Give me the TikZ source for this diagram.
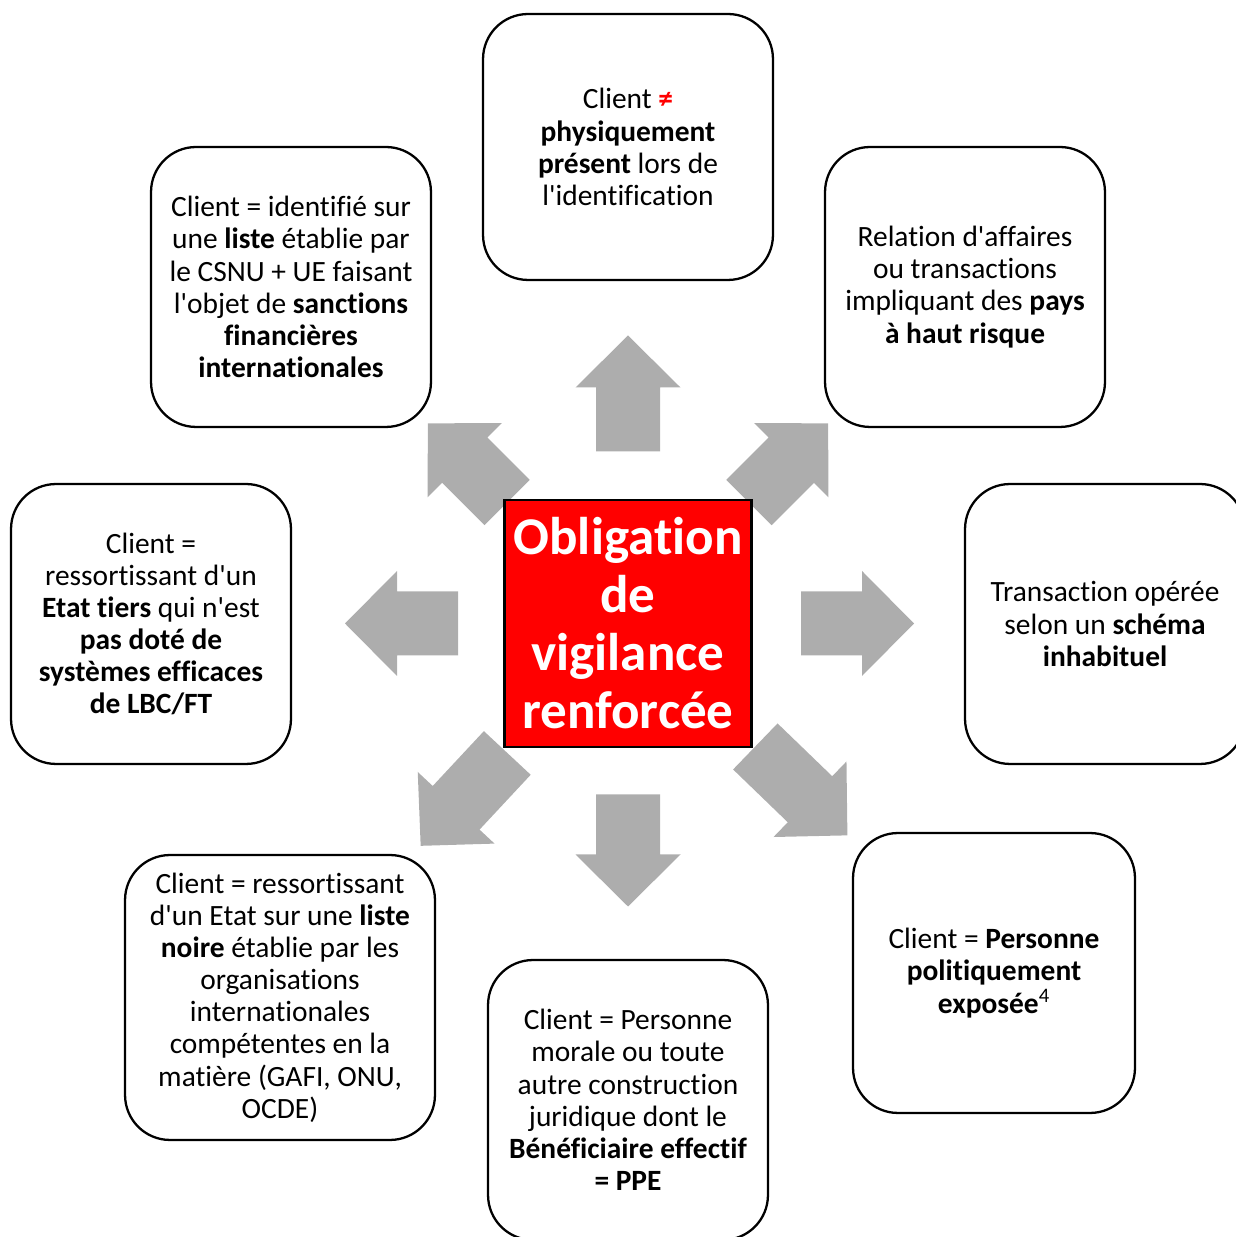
\documentclass[tikz,border=0pt]{standalone}
\usepackage{fontspec}
\setmainfont{Carlito}[Ligatures=NoCommon]
\definecolor{arrowgray}{RGB}{173,173,173}
\newcommand{\ap}{\textquotesingle}
\begin{document}
\begin{tikzpicture}[
    x=0.02cm,
    y=0.02cm,
    casebox/.style={draw=black, line width=1.3pt, rounded corners=0.9cm, fill=white,
        align=center, inner sep=0pt, minimum width=5.6cm, minimum height=5.6cm,
        font=\fontsize{16.75}{18.3}\selectfont},
    centrebox/.style={draw=black, line width=1.2pt, fill=red, text=white,
        align=center, inner sep=0pt, minimum width=4.94cm, minimum height=4.94cm,
        font=\bfseries\fontsize{30.2}{33}\selectfont},
    blockarrow/.style={fill=arrowgray}
]

% =========================================================
% CADRE
% =========================================================

\clip (0,0) rectangle (1236,1237);

% =========================================================
% PARAMETRI
% =========================================================

\def\headlen{52}
\def\headhalf{52.5}
\def\shafthalf{32}

\coordinate (hub) at (628,613.5);

% =========================================================
% FRECCE
% =========================================================

% angolo / inizio / punta
\foreach \ang/\rin/\rtip in {90/172/288, 45/171/283, 0/173/286, 316/177/305,
                             270/171/283, 227/177/304, 180/170/283, 135/171/283}
{
  \fill[blockarrow, shift={(hub)}, rotate=\ang]
  (\rin,-\shafthalf) -- ({\rtip-\headlen},-\shafthalf)
  -- ({\rtip-\headlen},-\headhalf) -- (\rtip,0)
  -- ({\rtip-\headlen},\headhalf) -- ({\rtip-\headlen},\shafthalf)
  -- (\rin,\shafthalf) -- cycle;
}

% =========================================================
% CENTRO
% =========================================================

\node[centrebox] (oblig) at (hub) {Obligation\\de\\vigilance\\renforcée};

% =========================================================
% CASI
% =========================================================

% Alto
\node[casebox, minimum width=5.8cm, minimum height=5.32cm] (present) at (628,1090)
{Client {\color{red}\bfseries ≠}\\\textbf{physiquement}\\\textbf{présent} lors de\\l\ap identification};

% Alto destra
\node[casebox] (pays) at (965,950)
{Relation d\ap affaires\\ou transactions\\impliquant des \textbf{pays}\\\textbf{à haut risque}};

% Destra
\node[casebox] (schema) at (1105,613)
{Transaction opérée\\selon un \textbf{schéma}\\\textbf{inhabituel}};

% Basso destra
\node[casebox, minimum width=5.64cm] (ppe) at (994,264)
{Client = \textbf{Personne}\\\textbf{politiquement}\\\textbf{exposée}{\mdseries\textsuperscript{4}}};

% Basso
\node[casebox] (benef) at (628,137)
{Client = Personne\\morale ou toute\\autre construction\\juridique dont le\\\textbf{Bénéficiaire effectif}\\\textbf{= PPE}};

% Basso sinistra
\node[casebox, minimum width=6.2cm, minimum height=5.7cm] (noire) at (280,239.5)
{Client = ressortissant\\d\ap un Etat sur une \textbf{liste}\\\textbf{noire} établie par les\\organisations\\internationales\\compétentes en la\\matière (GAFI, ONU,\\OCDE)};

% Sinistra
\node[casebox] (tiers) at (151,613)
{Client =\\ressortissant d\ap un\\\textbf{Etat tiers} qui n\ap est\\\textbf{pas doté de}\\\textbf{systèmes efficaces}\\\textbf{de LBC/FT}};

% Alto sinistra
\node[casebox] (sanction) at (291,950)
{Client = identifié sur\\une \textbf{liste} établie par\\le CSNU + UE faisant\\l\ap objet de \textbf{sanctions}\\\textbf{financières}\\\textbf{internationales}};

\end{tikzpicture}
\end{document}
